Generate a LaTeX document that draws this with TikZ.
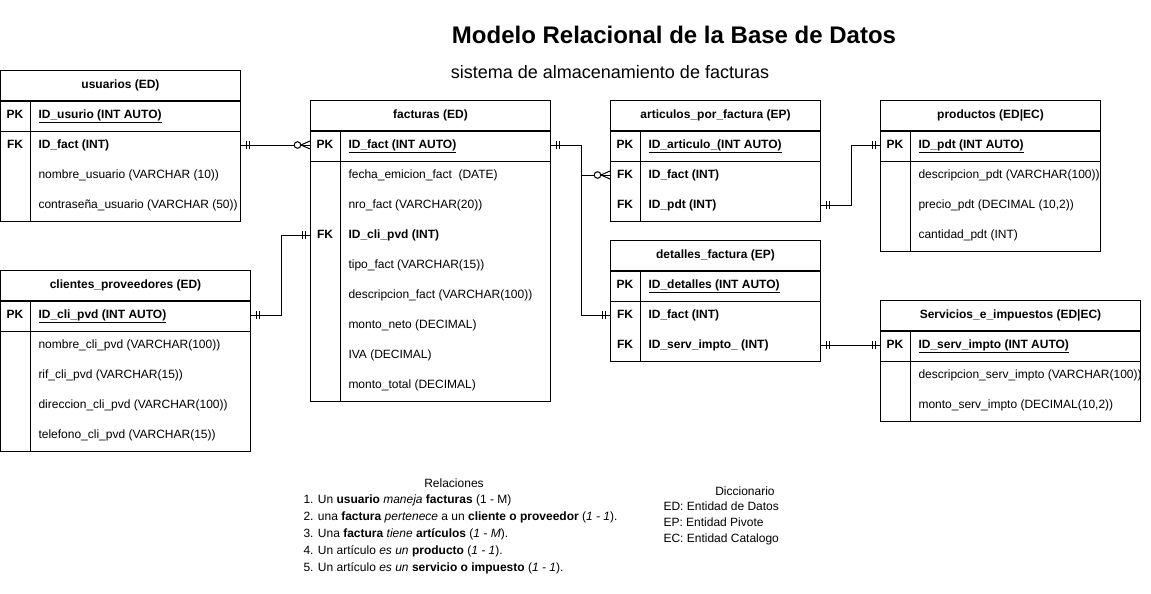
\documentclass[tikz,border=0pt,12pt]{standalone}
\usepackage{fontspec}
\setmainfont{Liberation Sans}

\tikzset{
  cab/.style={draw, anchor=north west, minimum height=30pt, inner sep=0pt, font=\bfseries},
  clave/.style={inner sep=0pt, text height=9pt, text depth=3pt, font=\bfseries},
  campo/.style={anchor=west, inner sep=0pt, text height=9pt, text depth=3pt},
  pics/uno/.style={code={\draw (5,-4) -- (5,4) (8,-4) -- (8,4);}},
  pics/muchos/.style={code={\draw (0,-4) -- (9,0) -- (0,4); \draw[fill=white] (12.5,0) circle[radius=3.3pt];}}
}

\begin{document}
\begin{tikzpicture}[x=1pt, y=-1pt, line width=1pt]
\useasboundingbox (0,0) rectangle (1151,594);
\node[font=\bfseries\fontsize{24}{28}\selectfont] (titulo) at (674,35) {Modelo Relacional de la Base de Datos};
\node[font=\fontsize{18}{21}\selectfont] (subtitulo) at (610,72) {sistema de almacenamiento de facturas};

% usuarios
\node[cab, minimum width=240] (usu) at (0,70) {usuarios (ED)};
\draw (usu.south west) rectangle ++(240,120) (usu.south west) ++(0,30) -- ++(240,0) (usu.south west) ++(30,0) -- ++(0,120);
\node[clave] (usu-pk) at (15,115) {PK};
\node[clave] (usu-fk) at (15,145) {FK};
\foreach \tx [count=\i] in {{\underline{\textbf{ID\_usurio (INT AUTO)}}}, {\textbf{ID\_fact (INT)}}, {nombre\_usuario (VARCHAR (10))}, {contraseña\_usuario (VARCHAR (50))}}
  \node[campo] (usu-\i) at (38,85+30*\i) {\tx};

% clientes_proveedores
\node[cab, minimum width=250] (cli) at (0,270) {clientes\_proveedores (ED)};
\draw (cli.south west) rectangle ++(250,150) (cli.south west) ++(0,30) -- ++(250,0) (cli.south west) ++(30,0) -- ++(0,150);
\node[clave] (cli-pk) at (15,315) {PK};
\foreach \tx [count=\i] in {{\underline{\textbf{ID\_cli\_pvd (INT AUTO)}}}, {nombre\_cli\_pvd (VARCHAR(100))}, {rif\_cli\_pvd (VARCHAR(15))}, {direccion\_cli\_pvd (VARCHAR(100))}, {telefono\_cli\_pvd (VARCHAR(15))}}
  \node[campo] (cli-\i) at (38,285+30*\i) {\tx};

% facturas
\node[cab, minimum width=240] (fac) at (310,100) {facturas (ED)};
\draw (fac.south west) rectangle ++(240,270) (fac.south west) ++(0,30) -- ++(240,0) (fac.south west) ++(30,0) -- ++(0,270);
\node[clave] (fac-pk) at (325,145) {PK};
\node[clave] (fac-fk) at (325,235) {FK};
\foreach \tx [count=\i] in {{\underline{\textbf{ID\_fact (INT AUTO)}}}, {fecha\_emicion\_fact\ \ (DATE)}, {nro\_fact (VARCHAR(20))}, {\textbf{ID\_cli\_pvd (INT)}}, {tipo\_fact (VARCHAR(15))}, {descripcion\_fact (VARCHAR(100))}, {monto\_neto (DECIMAL)}, {IVA (DECIMAL)}, {monto\_total (DECIMAL)}}
  \node[campo] (fac-\i) at (348,115+30*\i) {\tx};

% articulos_por_factura
\node[cab, minimum width=210] (art) at (610,100) {articulos\_por\_factura (EP)};
\draw (art.south west) rectangle ++(210,90) (art.south west) ++(0,30) -- ++(210,0) (art.south west) ++(30,0) -- ++(0,90);
\node[clave] (art-pk) at (625,145) {PK};
\node[clave] (art-fk1) at (625,175) {FK};
\node[clave] (art-fk2) at (625,205) {FK};
\foreach \tx [count=\i] in {{\underline{\textbf{ID\_articulo\_(INT AUTO)}}}, {\textbf{ID\_fact (INT)}}, {\textbf{ID\_pdt (INT)}}}
  \node[campo] (art-\i) at (648,115+30*\i) {\tx};

% detalles_factura
\node[cab, minimum width=210] (det) at (610,240) {detalles\_factura (EP)};
\draw (det.south west) rectangle ++(210,90) (det.south west) ++(0,30) -- ++(210,0) (det.south west) ++(30,0) -- ++(0,90);
\node[clave] (det-pk) at (625,285) {PK};
\node[clave] (det-fk1) at (625,315) {FK};
\node[clave] (det-fk2) at (625,345) {FK};
\foreach \tx [count=\i] in {{\underline{\textbf{ID\_detalles (INT AUTO)}}}, {\textbf{ID\_fact (INT)}}, {\textbf{ID\_serv\_impto\_ (INT)}}}
  \node[campo] (det-\i) at (648,255+30*\i) {\tx};

% productos
\node[cab, minimum width=220] (pro) at (880,100) {productos (ED|EC)};
\draw (pro.south west) rectangle ++(220,120) (pro.south west) ++(0,30) -- ++(220,0) (pro.south west) ++(30,0) -- ++(0,120);
\node[clave] (pro-pk) at (895,145) {PK};
\foreach \tx [count=\i] in {{\underline{\textbf{ID\_pdt (INT AUTO)}}}, {descripcion\_pdt (VARCHAR(100))}, {precio\_pdt (DECIMAL (10,2))}, {cantidad\_pdt (INT)}}
  \node[campo] (pro-\i) at (918,115+30*\i) {\tx};

% Servicios_e_impuestos
\node[cab, minimum width=260] (ser) at (880,300) {Servicios\_e\_impuestos (ED|EC)};
\draw (ser.south west) rectangle ++(260,90) (ser.south west) ++(0,30) -- ++(260,0) (ser.south west) ++(30,0) -- ++(0,90);
\node[clave] (ser-pk) at (895,345) {PK};
\foreach \tx [count=\i] in {{\underline{\textbf{ID\_serv\_impto (INT AUTO)}}}, {descripcion\_serv\_impto (VARCHAR(100))}, {monto\_serv\_impto (DECIMAL(10,2))}}
  \node[campo] (ser-\i) at (918,315+30*\i) {\tx};

% relaciones
\draw (usu-2 -| usu.east) -- (fac-1 -| fac.west);
\draw (cli-1 -| cli.east) -- ++(30,0) |- (fac-4 -| fac.west);
\draw (fac-1 -| fac.east) -- ++(30,0) |- (art-2 -| art.west);
\draw (fac-1 -| fac.east) -- ++(30,0) |- (det-2 -| det.west);
\draw (art-3 -| art.east) -- ++(30,0) |- (pro-1 -| pro.west);
\draw (det-3 -| det.east) -- (ser-1 -| ser.west);
\pic at (usu-2 -| usu.east) {uno};
\pic[xscale=-1] at (fac-1 -| fac.west) {muchos};
\pic at (cli-1 -| cli.east) {uno};
\pic[xscale=-1] at (fac-4 -| fac.west) {uno};
\pic at (fac-1 -| fac.east) {uno};
\pic[xscale=-1] at (art-2 -| art.west) {muchos};
\pic[xscale=-1] at (det-2 -| det.west) {uno};
\pic at (art-3 -| art.east) {uno};
\pic[xscale=-1] at (pro-1 -| pro.west) {uno};
\pic at (det-3 -| det.east) {uno};
\pic[xscale=-1] at (ser-1 -| ser.west) {uno};

% notas
\node (rel-t) at (454,483) {Relaciones};
\node[anchor=north west, align=left, inner sep=0pt, font=\fontsize{12}{17}\selectfont] (rel) at (303,494) {1. Un \textbf{usuario} \textit{maneja} \textbf{facturas} (1 - M)\\
2. una \textbf{factura} \textit{pertenece} a un \textbf{cliente o proveedor} (\textit{1 - 1}).\\
3. Una \textbf{factura} \textit{tiene} \textbf{artículos} (\textit{1 - M}).\\
4. Un artículo \textit{es un} \textbf{producto} (\textit{1 - 1}).\\
5. Un artículo \textit{es un} \textbf{servicio o impuesto} (\textit{1 - 1}).};
\node (dic-t) at (745,491) {Diccionario};
\node[anchor=north west, align=left, inner sep=0pt, font=\fontsize{12}{16}\selectfont] (dic) at (663,501) {ED: Entidad de Datos\\EP: Entidad Pivote\\EC: Entidad Catalogo};
\end{tikzpicture}
\end{document}
